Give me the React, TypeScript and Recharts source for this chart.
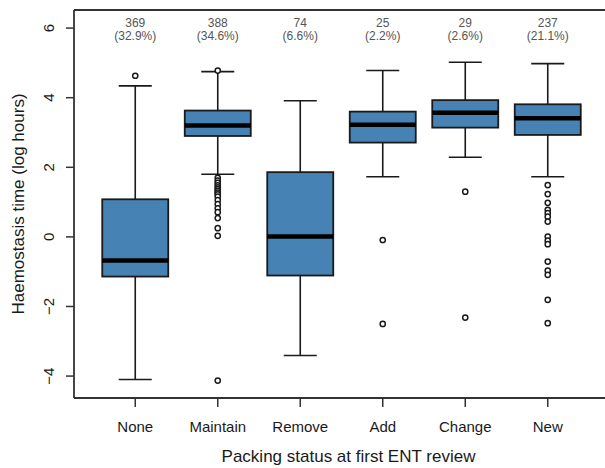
import { ComposedChart, Bar, XAxis, YAxis } from "recharts";

const categories = ["None", "Maintain", "Remove", "Add", "Change", "New"];
const counts = [369, 388, 74, 25, 29, 237];
const percents = ["32.9%", "34.6%", "6.6%", "2.2%", "2.6%", "21.1%"];

const whiskerLow = [-4.1, 1.8, -3.41, 1.73, 2.29, 1.73];
const q1 = [-1.14, 2.9, -1.11, 2.71, 3.14, 2.93];
const median = [-0.68, 3.2, 0.01, 3.22, 3.57, 3.41];
const q3 = [1.08, 3.63, 1.86, 3.6, 3.93, 3.81];
const whiskerHigh = [4.34, 4.75, 3.91, 4.78, 5.02, 4.98];

const outliers = [
  [4.63],
  [4.78, 1.7, 1.62, 1.55, 1.48, 1.42, 1.37, 1.32, 1.27, 1.22, 1.16, 1.06, 0.94, 0.82, 0.71, 0.54, 0.25, 0.03, -4.13],
  [],
  [-0.09, -2.5],
  [1.3, -2.32],
  [1.49, 1.23, 0.98, 0.78, 0.68, 0.58, 0.44, 0.01, -0.11, -0.21, -0.71, -0.97, -1.09, -1.81, -2.48],
];

const yTicks = [-4, -2, 0, 2, 4, 6];

const rows = categories.map((name, i) => {
  const all = [whiskerLow[i], whiskerHigh[i], ...outliers[i]];
  return { name, idx: i, range: [Math.min(...all), Math.max(...all)] };
});

const FONT = '"Liberation Sans", Arial, Helvetica, sans-serif';
const INK = "#1a1a1a";

function BoxShape(props: any) {
  const { x, y, width, height, payload } = props;
  const i = payload.idx;
  const [lo, hi] = payload.range;
  const top = Math.min(y, y + height);
  const span = Math.abs(height);
  const py = (v: number) => (hi === lo ? top : top + ((hi - v) / (hi - lo)) * span);
  const cx = x + width / 2;
  const cap = width / 4;
  return (
    <g>
      <line x1={cx} x2={cx} y1={py(whiskerHigh[i])} y2={py(q3[i])} stroke={INK} strokeWidth={1.6} />
      <line x1={cx} x2={cx} y1={py(q1[i])} y2={py(whiskerLow[i])} stroke={INK} strokeWidth={1.6} />
      <line x1={cx - cap} x2={cx + cap} y1={py(whiskerHigh[i])} y2={py(whiskerHigh[i])} stroke={INK} strokeWidth={1.6} />
      <line x1={cx - cap} x2={cx + cap} y1={py(whiskerLow[i])} y2={py(whiskerLow[i])} stroke={INK} strokeWidth={1.6} />
      <rect
        x={x}
        y={py(q3[i])}
        width={width}
        height={py(q1[i]) - py(q3[i])}
        fill="#4682B4"
        stroke={INK}
        strokeWidth={1.8}
      />
      <line x1={x} x2={x + width} y1={py(median[i])} y2={py(median[i])} stroke="#000" strokeWidth={4.5} />
      {outliers[i].map((v, k) => (
        <circle key={k} cx={cx} cy={py(v)} r={2.6} fill="#fff" stroke={INK} strokeWidth={1.5} />
      ))}
    </g>
  );
}

function CountTick(props: any) {
  const { x, y, payload } = props;
  const i = payload.index;
  return (
    <g fontFamily={FONT} fontSize={12} fill="#555">
      <text x={x} y={y + 17} textAnchor="middle">{counts[i]}</text>
      <text x={x} y={y + 30} textAnchor="middle">({percents[i]})</text>
    </g>
  );
}

function YTick(props: any) {
  const { x, y, payload } = props;
  const label = payload.value < 0 ? "\u2212" + Math.abs(payload.value) : String(payload.value);
  return (
    <text x={x} y={y} transform={`rotate(-90, ${x}, ${y})`} textAnchor="middle" fontFamily={FONT} fontSize={15} fill={INK}>
      {label}
    </text>
  );
}

function YLabel(props: any) {
  const vb = props.viewBox;
  const cy = vb.y + vb.height / 2;
  return (
    <text x={24} y={cy} transform={`rotate(-90, 24, ${cy})`} textAnchor="middle" fontFamily={FONT} fontSize={17} fill={INK}>
      Haemostasis time (log hours)
    </text>
  );
}

export default function App() {
  return (
    <div>
      <style>{`body{margin:0;background:#fff}`}</style>
      <ComposedChart
        width={605}
        height={468}
        data={rows}
        margin={{ top: 10, right: 0, bottom: 0, left: 0 }}
        barCategoryGap="10%"
      >
        <XAxis
          dataKey="name"
          xAxisId="bottom"
          height={70}
          padding={{ left: 20, right: 16 }}
          tickSize={9}
          tickMargin={14}
          axisLine={{ stroke: "#333", strokeWidth: 1.8 }}
          tickLine={{ stroke: "#333", strokeWidth: 1.5 }}
          tick={{ fontFamily: FONT, fontSize: 15, fill: INK }}
          interval={0}
          label={{
            value: "Packing status at first ENT review",
            position: "insideBottom",
            offset: 6,
            dx: 9,
            style: { fontFamily: FONT, fontSize: 17, fill: INK },
          }}
        />
        <XAxis
          dataKey="name"
          xAxisId="top"
          orientation="top"
          mirror
          padding={{ left: 20, right: 16 }}
          tickSize={0}
          tickMargin={0}
          tickLine={false}
          axisLine={{ stroke: "#333", strokeWidth: 1.8 }}
          tick={<CountTick />}
          interval={0}
        />
        <YAxis
          type="number"
          domain={[-4.63, 6.52]}
          allowDataOverflow
          ticks={yTicks}
          width={74}
          tickSize={8}
          tickMargin={12}
          axisLine={{ stroke: "#333", strokeWidth: 1.8 }}
          tickLine={{ stroke: "#333", strokeWidth: 1.5 }}
          tick={<YTick />}
          label={{ content: <YLabel /> }}
        />
        <Bar dataKey="range" xAxisId="bottom" shape={<BoxShape />} isAnimationActive={false} />
      </ComposedChart>
    </div>
  );
}
